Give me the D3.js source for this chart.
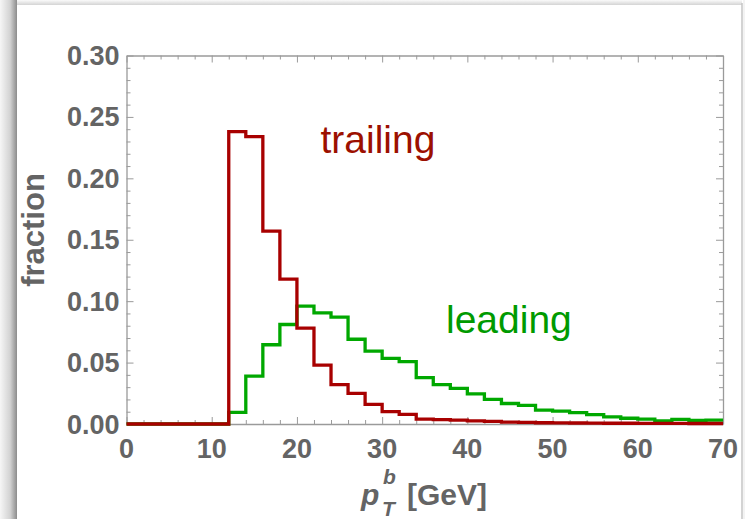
<!DOCTYPE html>
<html>
<head>
<meta charset="utf-8">
<script src="https://cdn.jsdelivr.net/npm/d3@7"></script>
<style>
  html, body { margin: 0; padding: 0; background: #fff; }
  svg { display: block; font-family: "Liberation Sans", Arial, sans-serif; }
</style>
</head>
<body>
<div id="chart"></div>
<script>
// bin left edges (GeV), width 2
const binEdges = [0, 2, 4, 6, 8, 10, 12, 14, 16, 18, 20, 22, 24, 26, 28, 30, 32, 34,
  36, 38, 40, 42, 44, 46, 48, 50, 52, 54, 56, 58, 60, 62, 64, 66, 68, 70];

// fraction per bin
const trailing = [0, 0, 0, 0, 0, 0,
  0.238, 0.234, 0.157, 0.118, 0.078, 0.048, 0.032, 0.025, 0.016, 0.010, 0.0078, 0.004,
  0.0036, 0.0031, 0.0026, 0.0021, 0.0016, 0.0013, 0.001, 0.0009, 0.0008, 0.0007, 0.0006,
  0.0006, 0.0005, 0.0005, 0.0005, 0.0004, 0.0004];
const leading = [0, 0, 0, 0, 0, 0,
  0.0095, 0.039, 0.0645, 0.081, 0.096, 0.0905, 0.087, 0.069, 0.0594, 0.0535, 0.0508, 0.0377,
  0.032, 0.029, 0.0245, 0.0201, 0.0167, 0.0152, 0.0113, 0.0105, 0.0092, 0.0076, 0.0058,
  0.0047, 0.004, 0.0025, 0.0038, 0.003, 0.0031];

const xTicks = [0, 10, 20, 30, 40, 50, 60, 70];
const yTicks = [0, 0.05, 0.10, 0.15, 0.20, 0.25, 0.30];

const W = 745, H = 519;
const grey = '#646464';
const frameColor = '#9a9a9a';

const svg = d3.select('#chart').append('svg').attr('width', W).attr('height', H);
const defs = svg.append('defs');

// notebook-style shadow around the panel
const lg = defs.append('linearGradient').attr('id', 'leftShade').attr('x1', 0).attr('x2', 1).attr('y1', 0).attr('y2', 0);
lg.append('stop').attr('offset', 0).attr('stop-color', '#f6f6f6');
lg.append('stop').attr('offset', 0.6).attr('stop-color', '#d2d2d2');
lg.append('stop').attr('offset', 1).attr('stop-color', '#8c8c8c');
const tg = defs.append('linearGradient').attr('id', 'topShade').attr('x1', 0).attr('x2', 0).attr('y1', 0).attr('y2', 1);
tg.append('stop').attr('offset', 0).attr('stop-color', '#fafafa');
tg.append('stop').attr('offset', 1).attr('stop-color', '#d4d4d4');

svg.append('rect').attr('width', W).attr('height', H).attr('fill', '#fff');
svg.append('rect').attr('x', 17).attr('y', 0).attr('width', 725).attr('height', 5).attr('fill', 'url(#topShade)');
svg.append('rect').attr('x', 0).attr('y', 0).attr('width', 17).attr('height', H).attr('fill', 'url(#leftShade)');
svg.append('rect').attr('x', 743).attr('y', 0).attr('width', 2).attr('height', H).attr('fill', '#f3f3f3');
svg.append('line').attr('x1', 742).attr('x2', 742).attr('y1', 3).attr('y2', H)
  .attr('stroke', '#c4c4c4').attr('stroke-width', 1.5);

const x = d3.scaleLinear().domain([0, 70]).range([126.5, 723]);
const y = d3.scaleLinear().domain([0, 0.30]).range([424, 55.5]);

const g = svg.append('g');

// frame with ticks on all four sides
const xMinor = x.ticks(35), yMinor = y.ticks(30);
function tickLen(v, majors) { return majors.some(m => Math.abs(m - v) < 1e-9) ? 7 : 4; }

g.append('g').call(d3.axisBottom(x).tickValues(xMinor).tickSizeInner(0).tickSizeOuter(0).tickFormat(''))
  .attr('transform', `translate(0,${y(0)})`)
  .call(a => a.selectAll('.tick line').attr('y2', d => -tickLen(d, xTicks)).attr('stroke', frameColor));
g.append('g').call(d3.axisTop(x).tickValues(xMinor).tickSizeInner(0).tickSizeOuter(0).tickFormat(''))
  .attr('transform', `translate(0,${y(0.30)})`)
  .call(a => a.selectAll('.tick line').attr('y2', d => tickLen(d, xTicks)).attr('stroke', frameColor));
g.append('g').call(d3.axisLeft(y).tickValues(yMinor).tickSizeInner(0).tickSizeOuter(0).tickFormat(''))
  .attr('transform', `translate(${x(0)},0)`)
  .call(a => a.selectAll('.tick line').attr('x2', d => tickLen(d, yTicks)).attr('stroke', frameColor));
g.append('g').call(d3.axisRight(y).tickValues(yMinor).tickSizeInner(0).tickSizeOuter(0).tickFormat(''))
  .attr('transform', `translate(${x(70)},0)`)
  .call(a => a.selectAll('.tick line').attr('x2', d => -tickLen(d, yTicks)).attr('stroke', frameColor));
g.selectAll('.domain').attr('stroke', frameColor).attr('stroke-width', 1.3);

// tick labels
g.selectAll('.xlab').data(xTicks).join('text').attr('class', 'xlab')
  .attr('x', d => x(d)).attr('y', 457.5).attr('text-anchor', 'middle')
  .attr('font-size', 27).attr('font-weight', 'bold').attr('fill', grey).text(d => d);
g.selectAll('.ylab').data(yTicks).join('text').attr('class', 'ylab')
  .attr('x', 119.5).attr('y', d => y(d) + 9.5).attr('text-anchor', 'end')
  .attr('font-size', 27).attr('font-weight', 'bold').attr('fill', grey).text(d => d3.format('.2f')(d));

// axis titles
svg.append('text').attr('transform', 'translate(43.5,230) rotate(-90)').attr('text-anchor', 'middle')
  .attr('font-size', 31).attr('font-weight', 'bold').attr('fill', grey).text('fraction');
const xt = svg.append('g').attr('fill', grey).attr('font-weight', 'bold');
xt.append('text').attr('x', 361).attr('y', 505).attr('font-size', 30).attr('font-style', 'italic').text('p');
xt.append('text').attr('x', 383).attr('y', 484).attr('font-size', 21).attr('font-style', 'italic').text('b');
xt.append('text').attr('x', 382).attr('y', 516).attr('font-size', 21).attr('font-style', 'italic').text('T');
xt.append('text').attr('x', 407).attr('y', 505).attr('font-size', 30).text('[GeV]');

// step histograms
const line = d3.line().x(d => x(d[0])).y(d => y(d[1])).curve(d3.curveStepAfter);
function pts(vals) {
  const p = vals.map((v, i) => [binEdges[i], v]);
  p.push([binEdges[binEdges.length - 1], vals[vals.length - 1]]);
  return p;
}
g.append('path').attr('d', line(pts(leading))).attr('fill', 'none')
  .attr('stroke', '#00a800').attr('stroke-width', 3.3).attr('stroke-linejoin', 'miter');
g.append('path').attr('d', line(pts(trailing))).attr('fill', 'none')
  .attr('stroke', '#a80000').attr('stroke-width', 3.3).attr('stroke-linejoin', 'miter');

// series labels
svg.append('text').attr('x', 320.5).attr('y', 153).attr('font-size', 39).attr('fill', '#9c1000').text('trailing');
svg.append('text').attr('x', 446).attr('y', 333).attr('font-size', 39).attr('fill', '#009a00').text('leading');
</script>
</body>
</html>
